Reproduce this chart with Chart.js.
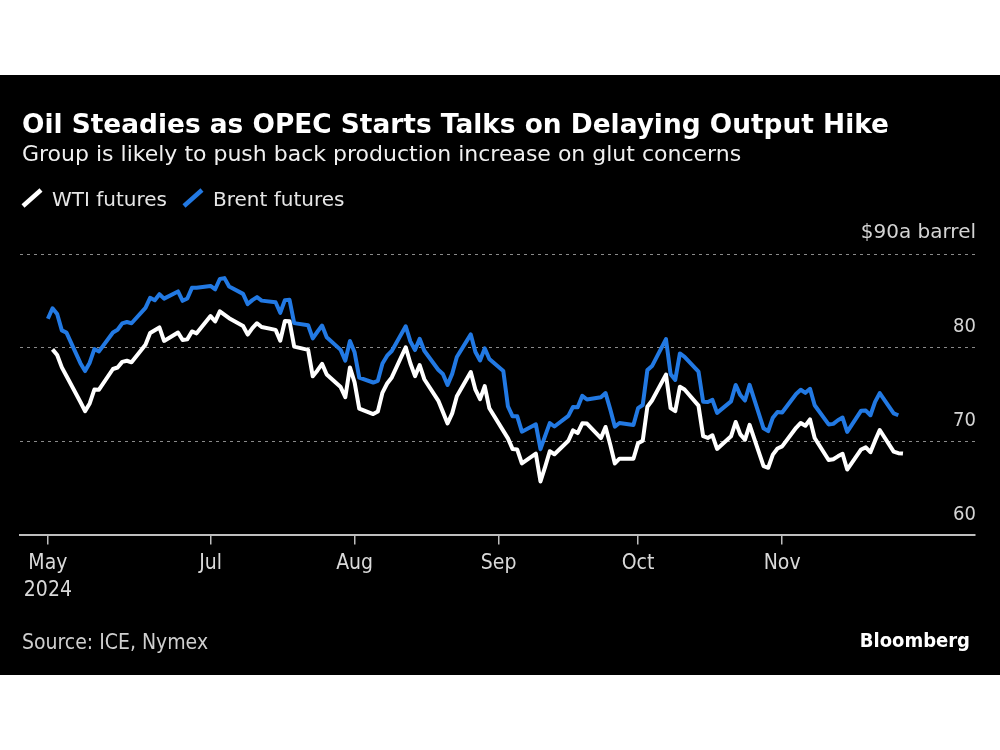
<!DOCTYPE html>
<html>
<head>
<meta charset="utf-8">
<script src="https://cdn.jsdelivr.net/npm/chart.js@4.4.1/dist/chart.umd.min.js"></script>
<style>
  html, body { margin: 0; padding: 0; background: #fff; }
  #wrap { position: absolute; left: 0; top: 75px; width: 1000px; height: 600px; background: #000; }
</style>
</head>
<body>
<div id="wrap"><canvas id="oil" width="1000" height="600"></canvas></div>
<script>
// weekdays from startDate to endDate, one value per weekday (null = no settlement)
const startDate = "2024-05-27";
const endDate = "2024-11-27";

const wti = [
    null, 79.83, 79.23, 77.91, 76.99,
    74.22, 73.25, 74.07, 75.55, 75.53,
    77.74, 77.90, 78.50, 78.62, 78.45,
    80.33, 81.57, null, 82.17, 80.73,
    81.63, 80.83, 80.90, 81.74, 81.54,
    83.38, 82.81, 83.88, null, 83.16,
    82.33, 81.41, 82.10, 82.62, 82.21,
    81.91, 80.76, 82.85, 82.82, 80.13,
    79.78, 76.96, 77.59, 78.28, 77.16,
    75.81, 74.73, 77.91, 76.31, 73.52,
    72.94, 73.20, 75.23, 76.19, 76.84,
    80.06, 78.35, 76.98, 78.16, 76.65,
    74.37, 73.17, 71.93, 73.01, 74.83,
    77.42, 75.53, 74.52, 75.91, 73.55,
    null, 70.34, 69.20, 69.15, 67.67,
    68.71, 65.75, 67.31, 68.97, 68.65,
    70.09, 71.19, 70.91, 71.95, 71.92,
    70.37, 71.56, 69.69, 67.67, 68.18,
    68.17, 69.83, 70.10, 73.71, 74.38,
    77.14, 73.57, 73.24, 75.85, 75.56,
    73.83, 70.58, 70.39, 70.67, 69.22,
    70.56, 72.09, 70.77, 70.19, 71.78,
    67.38, 67.21, 68.61, 69.26, 69.49,
    71.47, 71.99, 71.69, 72.36, 70.38,
    68.04, 68.12, 68.43, 68.70, 67.02,
    69.16, 69.39, 68.87, 70.10, 71.24,
    68.94, 68.77, 68.72
];

const brent = [
    83.10, 84.22, 83.60, 81.86, 81.62,
    78.36, 77.52, 78.41, 79.87, 79.62,
    81.63, 81.92, 82.60, 82.75, 82.62,
    84.25, 85.33, 85.07, 85.71, 85.24,
    86.01, 85.01, 85.25, 86.39, 86.41,
    86.60, 86.24, 87.34, 87.43, 86.54,
    85.75, 84.66, 85.08, 85.40, 85.03,
    84.85, 83.73, 85.08, 85.11, 82.63,
    82.40, 81.01, 81.71, 82.37, 81.13,
    79.78, 78.63, 80.72, 79.52, 76.81,
    76.30, 76.48, 78.33, 79.16, 79.66,
    82.30, 80.69, 79.76, 80.96, 79.68,
    77.66, 77.20, 76.05, 77.22, 79.02,
    81.43, 79.55, 78.65, 79.94, 78.80,
    77.52, 73.75, 72.70, 72.69, 71.06,
    71.84, 69.19, 70.61, 71.97, 71.61,
    72.75, 73.70, 73.65, 74.88, 74.49,
    74.73, 75.17, 73.46, 71.60, 71.98,
    71.77, 73.56, 73.90, 77.62, 78.05,
    80.93, 77.18, 76.58, 79.40, 79.04,
    77.46, 74.25, 74.22, 74.45, 73.06,
    74.29, 76.04, 74.96, 74.38, 76.05,
    71.42, 71.12, 72.55, 73.16, 73.10,
    75.08, 75.53, 75.20, 75.63, 73.87,
    71.83, 71.89, 72.28, 72.56, 71.04,
    73.30, 73.31, 72.81, 74.23, 75.17,
    73.01, 72.81, null
];

const tickDates = ["2024-05-27", "2024-07-01", "2024-08-01", "2024-09-01", "2024-10-01", "2024-11-01"];
const tickLabels = [["May", "2024"], "Jul", "Aug", "Sep", "Oct", "Nov"];
const yTicks = [60, 70, 80, 90];

const FONT = '"DejaVu Sans", sans-serif';
const COND = '"DejaVu Sans Condensed", "DejaVu Sans", sans-serif';
const BLUE = "#2279e3";

////////////////////////////////////////////////////////////////////////////////////

const DAY = 86400000;
const t0 = Date.parse(startDate + "T00:00:00Z");
const dayNum = (s) => Math.round((Date.parse(s + "T00:00:00Z") - t0) / DAY);

const days = [];
for (let t = t0; t <= Date.parse(endDate + "T00:00:00Z"); t += DAY) {
    const wd = new Date(t).getUTCDay();
    if (wd !== 0 && wd !== 6) days.push(Math.round((t - t0) / DAY));
}
const tickDays = tickDates.map(dayNum);

const toPoints = (vals) => days.map((d, i) => ({ x: d, y: vals[i] })).filter(p => p.y !== null);

////////////////////////////////////////////////////////////////////////////////////

const headerPlugin = {
    id: "header",
    afterDraw(chart) {
        const ctx = chart.ctx;
        ctx.save();
        ctx.textBaseline = "alphabetic";
        ctx.textAlign = "left";

        ctx.fillStyle = "#ffffff";
        ctx.font = "bold 26.4px " + FONT;
        ctx.fillText("Oil Steadies as OPEC Starts Talks on Delaying Output Hike", 22, 58);

        ctx.fillStyle = "#f0f0f0";
        ctx.font = "22px " + FONT;
        ctx.fillText("Group is likely to push back production increase on glut concerns", 22, 86);

        // legend
        let x = 23;
        ctx.font = "20px " + FONT;
        chart.data.datasets.forEach(ds => {
            ctx.strokeStyle = ds.borderColor;
            ctx.lineWidth = 4.5;
            ctx.beginPath();
            ctx.moveTo(x, 131);
            ctx.lineTo(x + 18, 115);
            ctx.stroke();
            ctx.fillStyle = "#e6e6e6";
            ctx.fillText(ds.label, x + 29, 131);
            x += 29 + ctx.measureText(ds.label).width + 17;
        });

        ctx.fillStyle = "#cfcfcf";
        ctx.font = "21px " + COND;
        ctx.fillText("Source: ICE, Nymex", 22, 574);

        ctx.fillStyle = "#ffffff";
        ctx.font = "bold 20px " + COND;
        ctx.textAlign = "right";
        ctx.fillText("Bloomberg", 970, 572);
        ctx.restore();
    }
};

const oil = document.querySelector("#oil");

const myChart = new Chart(oil, {
    type: "line",
    data: {
        datasets: [
            {
                label: "WTI futures",
                data: toPoints(wti),
                borderColor: "#ffffff",
                borderWidth: 4,
                pointRadius: 0,
                spanGaps: true,
                borderJoinStyle: "round"
            },
            {
                label: "Brent futures",
                data: toPoints(brent),
                borderColor: BLUE,
                borderWidth: 4,
                pointRadius: 0,
                spanGaps: true,
                borderJoinStyle: "round"
            }
        ]
    },
    options: {
        responsive: false,
        animation: false,
        devicePixelRatio: 1,
        layout: { padding: { left: 20, right: 23, top: 179, bottom: 66 } },
        plugins: {
            legend: { display: false },
            tooltip: { enabled: false }
        },
        scales: {
            x: {
                type: "linear",
                min: -6,
                max: 199.5,
                afterBuildTicks: (scale) => { scale.ticks = tickDays.map(v => ({ value: v })); },
                ticks: {
                    autoSkip: false,
                    maxRotation: 0,
                    color: "#d9d9d9",
                    font: { family: COND, size: 21, lineHeight: 1.3 },
                    padding: 5,
                    callback: (v, i) => tickLabels[i]
                },
                grid: { drawOnChartArea: false, color: "#bdbdbd", lineWidth: 1.5, tickLength: 9 },
                border: { color: "#bdbdbd", width: 2 }
            },
            y: {
                position: "right",
                min: 60,
                max: 90,
                afterBuildTicks: (scale) => { scale.ticks = yTicks.map(v => ({ value: v })); },
                ticks: {
                    mirror: true,
                    labelOffset: -21,
                    padding: 1,
                    color: "#d4d4d4",
                    font: (c) => c.tick && c.tick.value === 90
                        ? { family: FONT, size: 20 }
                        : { family: COND, size: 20 },
                    callback: (v) => v === 90 ? "$90a barrel" : String(v)
                },
                grid: {
                    drawTicks: false,
                    lineWidth: 1,
                    color: (c) => c.tick && c.tick.value === 60 ? "rgba(0,0,0,0)" : "#8a8a8a"
                },
                border: { display: false, dash: [3, 4] }
            }
        }
    },
    plugins: [headerPlugin]
});
</script>
</body>
</html>
